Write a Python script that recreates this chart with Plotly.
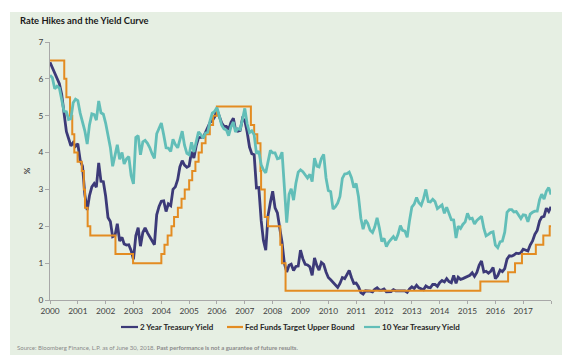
import pandas as pd
import plotly.graph_objects as go

# ---------------- data ----------------
month_ends = pd.date_range("2000-06-30", "2018-06-30", freq="ME")

two_year = [
    # 2000 Jun-Dec
    6.45, 6.30, 6.17, 5.98, 5.87, 5.58, 5.10,
    # 2001
    4.57, 4.39, 4.18, 4.27, 4.17, 4.24, 3.79, 3.63, 2.86, 2.44, 2.83, 3.07,
    # 2002
    3.16, 3.06, 3.72, 3.22, 3.21, 2.82, 2.24, 2.13, 1.72, 1.75, 2.07, 1.60,
    # 2003
    1.70, 1.52, 1.49, 1.50, 1.34, 1.10, 1.74, 1.96, 1.46, 1.83, 1.96, 1.82,
    # 2004
    1.70, 1.63, 1.50, 2.31, 2.54, 2.68, 2.69, 2.40, 2.61, 2.56, 3.00, 3.07,
    # 2005
    3.27, 3.61, 3.78, 3.66, 3.60, 3.64, 4.02, 3.85, 4.18, 4.40, 4.42, 4.41,
    # 2006
    4.54, 4.70, 4.82, 4.87, 4.97, 5.16, 4.97, 4.80, 4.71, 4.71, 4.62, 4.82,
    # 2007
    4.93, 4.62, 4.58, 4.60, 4.92, 4.87, 4.56, 4.15, 3.97, 3.94, 3.04, 3.05,
    # 2008
    2.16, 1.62, 1.35, 2.29, 2.65, 2.95, 2.50, 2.36, 1.96, 1.56, 1.00, 0.76,
    # 2009
    0.94, 0.97, 0.80, 0.91, 0.92, 1.35, 1.12, 0.97, 0.95, 0.90, 0.67, 1.14,
    # 2010
    0.93, 0.81, 1.02, 0.97, 0.76, 0.61, 0.55, 0.47, 0.42, 0.34, 0.45, 0.61,
    # 2011
    0.58, 0.69, 0.80, 0.61, 0.45, 0.46, 0.36, 0.20, 0.16, 0.25, 0.25, 0.24,
    # 2012
    0.22, 0.29, 0.33, 0.27, 0.27, 0.30, 0.22, 0.23, 0.23, 0.28, 0.25, 0.25,
    # 2013
    0.26, 0.25, 0.25, 0.21, 0.30, 0.36, 0.31, 0.40, 0.33, 0.31, 0.28, 0.38,
    # 2014
    0.34, 0.33, 0.42, 0.42, 0.37, 0.47, 0.53, 0.49, 0.58, 0.50, 0.47, 0.67,
    # 2015
    0.45, 0.62, 0.56, 0.58, 0.61, 0.64, 0.67, 0.74, 0.64, 0.75, 0.94, 1.06,
    # 2016
    0.76, 0.78, 0.73, 0.78, 0.88, 0.58, 0.66, 0.81, 0.77, 0.85, 1.11, 1.20,
    # 2017
    1.19, 1.22, 1.27, 1.26, 1.28, 1.38, 1.36, 1.33, 1.49, 1.60, 1.78, 1.89,
    # 2018 Jan-Jun
    2.14, 2.25, 2.27, 2.49, 2.40, 2.53,
]

ten_year = [
    # 2000 Jun-Dec
    6.10, 6.03, 5.73, 5.80, 5.75, 5.48, 5.12,
    # 2001
    5.11, 4.90, 4.92, 5.35, 5.45, 5.41, 5.07, 4.83, 4.59, 4.23, 4.75, 5.05,
    # 2002
    5.03, 4.88, 5.40, 5.08, 5.04, 4.80, 4.46, 4.14, 3.63, 3.89, 4.21, 3.82,
    # 2003
    4.00, 3.69, 3.83, 3.89, 3.37, 3.15, 4.41, 4.46, 3.94, 4.29, 4.33, 4.25,
    # 2004
    4.13, 3.97, 3.84, 4.51, 4.65, 4.80, 4.48, 4.13, 4.12, 4.03, 4.36, 4.22,
    # 2005
    4.13, 4.36, 4.58, 4.20, 3.98, 3.94, 4.28, 4.02, 4.33, 4.56, 4.49, 4.39,
    # 2006
    4.53, 4.55, 4.86, 5.07, 5.12, 5.22, 4.99, 4.74, 4.64, 4.61, 4.46, 4.70,
    # 2007
    4.83, 4.56, 4.65, 4.63, 4.90, 5.20, 4.78, 4.54, 4.59, 4.48, 3.97, 4.04,
    # 2008
    3.67, 3.53, 3.45, 3.77, 4.06, 3.99, 3.99, 3.83, 3.85, 4.01, 2.93, 2.10,
    # 2009
    2.87, 3.02, 2.71, 3.16, 3.47, 3.53, 3.48, 3.40, 3.31, 3.41, 3.21, 3.85,
    # 2010
    3.63, 3.61, 3.84, 3.95, 3.31, 2.97, 2.94, 2.47, 2.53, 2.63, 2.81, 3.30,
    # 2011
    3.42, 3.43, 3.47, 3.32, 3.05, 3.16, 2.80, 2.22, 1.92, 2.17, 2.08, 1.89,
    # 2012
    1.83, 1.98, 2.23, 1.95, 1.59, 1.67, 1.45, 1.57, 1.65, 1.72, 1.62, 1.78,
    # 2013
    2.02, 1.89, 1.87, 1.70, 2.16, 2.52, 2.60, 2.78, 2.64, 2.57, 2.75, 3.00,
    # 2014
    2.67, 2.66, 2.73, 2.67, 2.48, 2.53, 2.58, 2.35, 2.52, 2.35, 2.18, 2.17,
    # 2015
    1.68, 2.00, 1.94, 2.05, 2.12, 2.35, 2.20, 2.22, 2.06, 2.16, 2.21, 2.27,
    # 2016
    1.94, 1.74, 1.78, 1.83, 1.85, 1.49, 1.42, 1.58, 1.60, 1.84, 2.38, 2.45,
    # 2017
    2.45, 2.39, 2.40, 2.29, 2.21, 2.31, 2.30, 2.12, 2.33, 2.38, 2.41, 2.41,
    # 2018 Jan-Jun
    2.72, 2.87, 2.74, 2.95, 3.05, 2.86,
]

fed_dates = [
    "2000-06-30", "2001-01-03", "2001-01-31", "2001-03-20", "2001-04-18",
    "2001-05-15", "2001-06-27", "2001-08-21", "2001-09-17", "2001-10-02",
    "2001-11-06", "2001-12-11", "2002-11-06", "2003-06-25", "2004-06-30",
    "2004-08-10", "2004-09-21", "2004-11-10", "2004-12-14", "2005-02-02",
    "2005-03-22", "2005-05-03", "2005-06-30", "2005-08-09", "2005-09-20",
    "2005-11-01", "2005-12-13", "2006-01-31", "2006-03-28", "2006-05-10",
    "2006-06-29", "2007-09-18", "2007-10-31", "2007-12-11", "2008-01-22",
    "2008-01-30", "2008-03-18", "2008-04-30", "2008-10-08", "2008-10-29",
    "2008-12-16", "2015-12-16", "2016-12-14", "2017-03-15", "2017-06-14",
    "2017-12-13", "2018-03-21", "2018-06-13", "2018-06-30",
]
fed_upper = [
    6.50, 6.00, 5.50, 5.00, 4.50,
    4.00, 3.75, 3.50, 3.00, 2.50,
    2.00, 1.75, 1.25, 1.00, 1.25,
    1.50, 1.75, 2.00, 2.25, 2.50,
    2.75, 3.00, 3.25, 3.50, 3.75,
    4.00, 4.25, 4.50, 4.75, 5.00,
    5.25, 4.75, 4.50, 4.25, 3.50,
    3.00, 2.25, 2.00, 1.50, 1.00,
    0.25, 0.50, 0.75, 1.00, 1.25,
    1.50, 1.75, 2.00, 2.00,
]

tick_years = list(range(2000, 2019))
tick_labels = [str(y) for y in range(2000, 2018)] + [""]

series_names = ["2 Year Treasury Yield", "Fed Funds Target Upper Bound", "10 Year Treasury Yield"]
series_colors = ["#3C3A78", "#E38C22", "#62BEB8"]

title_text = "Rate Hikes and the Yield Curve"
source_text = ("Source: Bloomberg Finance, L.P. as of June 30, 2018. "
               "<b>Past performance is not a guarantee of future results.</b>")

# ---------------- figure ----------------
W, H = 574, 363
L, R, T, B = 50, 23, 42, 63
PW, PH = W - L - R, H - T - B


def px_x(px):
    return (px - L) / PW


def px_y(py):
    return (H - B - py) / PH


fig = go.Figure()
fig.add_trace(go.Scatter(x=month_ends, y=two_year, mode="lines",
                         line=dict(color=series_colors[0], width=2.8),
                         name=series_names[0]))
fig.add_trace(go.Scatter(x=pd.to_datetime(fed_dates), y=fed_upper, mode="lines",
                         line=dict(color=series_colors[1], width=2, shape="hv"),
                         name=series_names[1]))
fig.add_trace(go.Scatter(x=month_ends, y=ten_year, mode="lines",
                         line=dict(color=series_colors[2], width=2.8),
                         name=series_names[2]))

panel = "#E6EFE3"
shapes = [dict(type="rect", xref="paper", yref="paper",
               x0=px_x(10), x1=px_x(562), y0=px_y(355), y1=px_y(12),
               fillcolor=panel, line=dict(width=0), layer="below")]

annotations = [
    dict(text="<b>" + title_text + "</b>", xref="paper", yref="paper",
         x=px_x(18), y=px_y(20), xanchor="left", yanchor="middle",
         showarrow=False, font=dict(size=9.4, color="#1A1A1A", family="Lato")),
    dict(text=source_text, xref="paper", yref="paper",
         x=px_x(15), y=px_y(348), xanchor="left", yanchor="middle",
         showarrow=False, font=dict(size=6.0, color="#8A8A8A", family="Lato")),
]

# manual legend
legend_x = [(121, 138), (227, 243), (364, 380)]
for (x0, x1), name, col in zip(legend_x, series_names, series_colors):
    shapes.append(dict(type="line", xref="paper", yref="paper",
                       x0=px_x(x0), x1=px_x(x1), y0=px_y(327), y1=px_y(327),
                       line=dict(color=col, width=2.2)))
    annotations.append(dict(text="<b>" + name + "</b>", xref="paper", yref="paper",
                            x=px_x(x1), y=px_y(327), xanchor="left", yanchor="middle",
                            showarrow=False,
                            font=dict(size=8.0, color="#262626", family="Lato")))

fig.update_layout(
    width=W, height=H,
    margin=dict(l=L, r=R, t=T, b=B),
    paper_bgcolor="white",
    plot_bgcolor="rgba(0,0,0,0)",
    showlegend=False,
    font=dict(family="Lato", size=8, color="#404040"),
    shapes=shapes,
    annotations=annotations,
    xaxis=dict(
        type="date",
        range=["2000-06-30", "2018-06-30"],
        tickvals=[f"{y}-06-30" for y in tick_years],
        ticktext=tick_labels,
        showgrid=False, zeroline=False,
        showline=True, linecolor="#A8A8A8", linewidth=1,
        ticks="outside", ticklen=3, tickcolor="#A8A8A8",
        tickfont=dict(size=8.3, color="#404040", family="Lato"),
    ),
    yaxis=dict(
        range=[0, 7], dtick=1,
        showgrid=False, zeroline=False,
        showline=True, linecolor="#A8A8A8", linewidth=1,
        ticks="outside", ticklen=4, tickcolor="#A8A8A8",
        tickfont=dict(size=8.3, color="#404040", family="Lato"),
        title=dict(text="<b>%</b>", standoff=6,
                   font=dict(size=8, color="#404040", family="Lato")),
    ),
)

fig.write_html("out.html",
               config={"displayModeBar": False},
               post_script="document.body.style.margin='0';document.body.style.overflow='hidden';")
